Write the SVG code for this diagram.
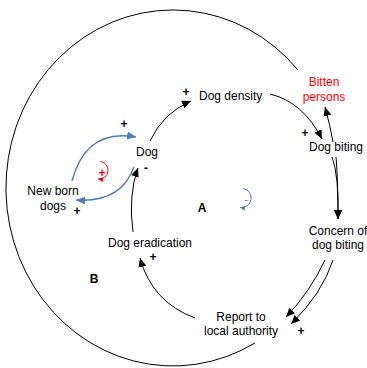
<svg xmlns="http://www.w3.org/2000/svg" width="367" height="368" viewBox="0 0 367 368">
<style>
text{font-family:"Liberation Sans",Arial,sans-serif;font-size:12px;fill:#000}
.m{text-anchor:middle}
.b{font-weight:bold}
.red{fill:#ff0000}
.blue{fill:#4a7ebb}
.k{fill:none;stroke:#000;stroke-width:1}
.bl{fill:none;stroke:#4a7ebb;stroke-width:1.4}
.rd{fill:none;stroke:#ff0000;stroke-width:1}
</style>
<defs>
<marker id="ak" markerUnits="userSpaceOnUse" markerWidth="10" markerHeight="8" refX="9" refY="4" orient="auto"><path d="M0,0 L9,4 L0,8 z" fill="#000"/></marker>
<marker id="ab" markerUnits="userSpaceOnUse" markerWidth="10" markerHeight="8" refX="9" refY="4" orient="auto"><path d="M0,0 L9,4 L0,8 z" fill="#4a7ebb"/></marker>
<marker id="ar" markerUnits="userSpaceOnUse" markerWidth="6" markerHeight="5" refX="5" refY="2.5" orient="auto"><path d="M0,0 L5,2.5 L0,5 z" fill="#ff0000"/></marker>
<marker id="abs" markerUnits="userSpaceOnUse" markerWidth="6" markerHeight="5" refX="5" refY="2.5" orient="auto"><path d="M0,0 L5,2.5 L0,5 z" fill="#4a7ebb"/></marker>
</defs>
<g id="connectors">
<path class="k" d="M298,70 A167,178 0 1,0 255,343"/>
<path class="k" d="M150,141 Q163,113 191,101" marker-end="url(#ak)"/>
<path class="k" d="M270,94 Q303,102 322,139" marker-end="url(#ak)"/>
<path class="k" d="M333,142 Q330,125 325,107" marker-end="url(#ak)"/>
<path class="k" d="M332,157 Q339,175 338,219" marker-end="url(#ak)"/>
<path class="k" d="M336,157 Q338,180 338,219" marker-end="url(#ak)"/>
<path class="k" d="M325,260 Q310,292 286,317" marker-end="url(#ak)"/>
<path class="k" d="M333,260 Q322,294 291,324" marker-end="url(#ak)"/>
<path class="k" d="M195,318 Q152,302 140,258" marker-end="url(#ak)"/>
<path class="k" d="M133,232 Q128,195 138,168" marker-end="url(#ak)"/>
<path class="bl" d="M72,181 Q86,128 136,137" marker-end="url(#ab)"/>
<path class="bl" d="M134,167 Q121,203 76,200" marker-end="url(#ab)"/>
<path class="rd" d="M100.5,161.5 A8.5,8.5 0 1,1 98,179" marker-end="url(#ar)"/>
<path class="bl" style="stroke-width:1" d="M243,188.5 A9.5,9.5 0 1,1 240,207.5" marker-end="url(#abs)"/>
</g>
<g id="dog-density"><text x="199" y="100">Dog density</text></g>
<g id="bitten-persons"><text class="m red" x="324" y="86">Bitten</text><text class="m red" x="324" y="101">persons</text></g>
<g id="dog-biting"><text x="309" y="151">Dog biting</text></g>
<g id="concern"><text class="m" x="338" y="235">Concern of</text><text class="m" x="338" y="249">dog biting</text></g>
<g id="report"><text class="m" x="241" y="321">Report to</text><text class="m" x="241" y="335">local authority</text></g>
<g id="dog-eradication"><text class="m" x="150" y="247">Dog eradication</text></g>
<g id="dog"><text x="136" y="156">Dog</text></g>
<g id="new-born-dogs"><text class="m" x="53" y="195">New born</text><text class="m" x="53" y="210">dogs</text></g>
<g id="signs">
<text class="m b" x="124" y="128">+</text>
<text class="m b" x="77" y="215">+</text>
<text class="m b" x="186" y="96">+</text>
<text class="m b" x="305" y="137">+</text>
<text class="m b" x="153" y="261">+</text>
<text class="m b" x="301" y="335">+</text>
<text class="m b" x="146" y="172">-</text>
<text class="m red b" x="102" y="177">+</text>
<text class="m blue" style="font-size:11px" x="246" y="203">-</text>
<text class="m b" x="202" y="212">A</text>
<text class="m b" x="94" y="283">B</text>
</g>
</svg>
